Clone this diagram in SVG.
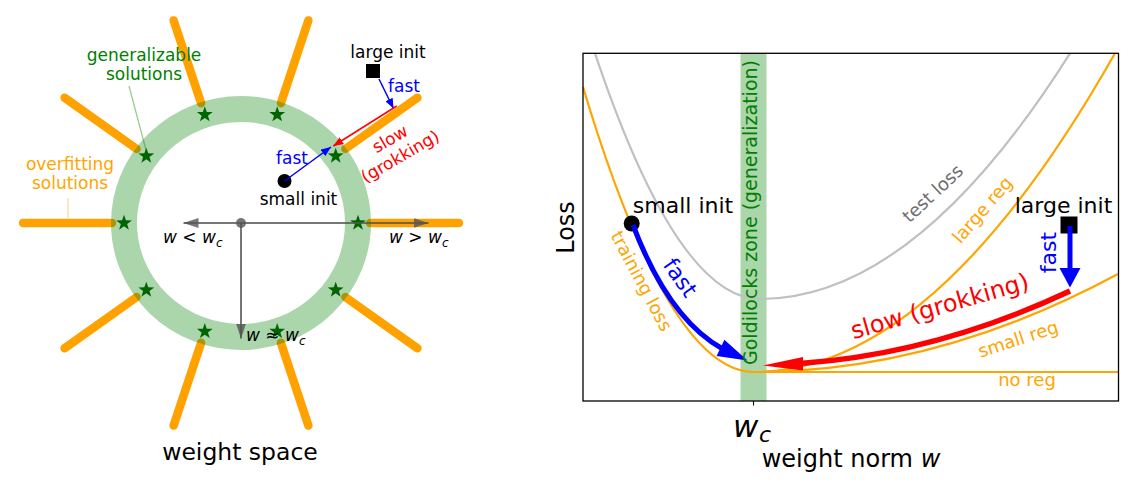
<svg xmlns="http://www.w3.org/2000/svg" xmlns:xlink="http://www.w3.org/1999/xlink" width="1144" height="486" viewBox="0 0 1144 486">
<style>
text{font-family:"DejaVu Sans","Liberation Sans",sans-serif;}
.t17{font-size:17px;}
.t18{font-size:18px;}
.t22{font-size:22px;}
.spoke{stroke:#ffa200;stroke-width:8.5;stroke-linecap:round;fill:none;}
.ring{fill:none;stroke:#008000;stroke-opacity:0.33;}
.ax{stroke:#555;stroke-opacity:0.8;stroke-width:2;fill:none;}
.curve{fill:none;stroke-width:2.2;}
.org{stroke:#ffa500;}
.mi{font-style:italic;}
</style>
<defs>
<path id="star" d="M0,-8.3 L1.95,-2.69 L7.89,-2.56 L3.16,1.03 L4.88,6.71 L0,3.32 L-4.88,6.71 L-3.16,1.03 L-7.89,-2.56 L-1.95,-2.69 Z" fill="#006400"/>
<marker id="hb" viewBox="0 0 10 8" refX="10" refY="4" markerWidth="10" markerHeight="8" markerUnits="userSpaceOnUse" orient="auto"><path d="M0,0 L10,4 L0,8 Z" fill="#0000ff"/></marker>
<marker id="hr" viewBox="0 0 10 8" refX="10" refY="4" markerWidth="10" markerHeight="8" markerUnits="userSpaceOnUse" orient="auto"><path d="M0,0 L10,4 L0,8 Z" fill="#ff0000"/></marker>
<marker id="hg" viewBox="0 0 15 10" refX="15" refY="5" markerWidth="15" markerHeight="10" markerUnits="userSpaceOnUse" orient="auto"><path d="M0,0 L15,5 L0,10 Z" fill="#555" fill-opacity="0.8"/></marker>
</defs>

<!-- LEFT PANEL: weight space -->
<g id="overfitting-spokes">
<line class="spoke" x1="370" y1="223" x2="459" y2="223"/>
<line class="spoke" x1="345.4" y1="148.9" x2="417.4" y2="97.8"/>
<line class="spoke" x1="280.9" y1="103.2" x2="308.4" y2="20.4"/>
<line class="spoke" x1="201.1" y1="103.2" x2="173.6" y2="20.4"/>
<line class="spoke" x1="136.6" y1="148.9" x2="64.6" y2="97.8"/>
<line class="spoke" x1="112" y1="223" x2="23" y2="223"/>
<line class="spoke" x1="136.6" y1="297.1" x2="64.6" y2="348.2"/>
<line class="spoke" x1="201.1" y1="342.8" x2="173.6" y2="425.6"/>
<line class="spoke" x1="280.9" y1="342.8" x2="308.4" y2="425.6"/>
<line class="spoke" x1="345.4" y1="297.1" x2="417.4" y2="348.2"/>
</g>
<g id="generalizable-ring">
<ellipse class="ring" cx="241" cy="223" rx="117" ry="114" stroke-width="26"/>
</g>
<g id="stars">
<use xlink:href="#star" href="#star" x="358" y="223"/>
<use xlink:href="#star" href="#star" x="335.7" y="156"/>
<use xlink:href="#star" href="#star" x="277.2" y="114.6"/>
<use xlink:href="#star" href="#star" x="204.8" y="114.6"/>
<use xlink:href="#star" href="#star" x="146.3" y="156"/>
<use xlink:href="#star" href="#star" x="124" y="223"/>
<use xlink:href="#star" href="#star" x="146.3" y="290"/>
<use xlink:href="#star" href="#star" x="204.8" y="331.4"/>
<use xlink:href="#star" href="#star" x="277.2" y="331.4"/>
<use xlink:href="#star" href="#star" x="335.7" y="290"/>
</g>
<g id="labels-left">
<line x1="129" y1="86" x2="146" y2="150" stroke="#008000" stroke-opacity="0.4" stroke-width="1.3"/>
<text class="t17" x="144" y="61" text-anchor="middle" fill="#008000">generalizable</text>
<text class="t17" x="144" y="80" text-anchor="middle" fill="#008000">solutions</text>
<line x1="68" y1="198" x2="68" y2="218" stroke="#ffa500" stroke-opacity="0.4" stroke-width="1.3"/>
<text class="t17" x="70" y="170" text-anchor="middle" fill="#ffa500">overfitting</text>
<text class="t17" x="70" y="189" text-anchor="middle" fill="#ffa500">solutions</text>
</g>
<g id="large-init-left">
<rect x="366" y="64" width="14" height="14" fill="#000"/>
<text class="t17" x="388" y="58" text-anchor="middle" fill="#000">large init</text>
</g>
<g id="small-init-left">
<circle cx="284.5" cy="181" r="7" fill="#000"/>
<text class="t17" x="298.5" y="205" text-anchor="middle" fill="#000">small init</text>
</g>
<g id="connectors-left">
<line x1="379" y1="79" x2="393.5" y2="108.5" stroke="#0000ff" stroke-width="1.5" marker-end="url(#hb)"/>
<line x1="396.7" y1="106" x2="333.3" y2="146" stroke="#ff0000" stroke-width="1.5" marker-end="url(#hr)"/>
<line x1="284.5" y1="181" x2="331" y2="147" stroke="#0000ff" stroke-width="1.5" marker-end="url(#hb)"/>
<text class="t17" x="388" y="92" fill="#0000ff">fast</text>
<text class="t17" x="276" y="164" fill="#0000ff">fast</text>
<g transform="translate(397,151) rotate(-30)" fill="#ff0000">
<text class="t17" x="0" y="-8" text-anchor="middle">slow</text>
<text class="t17" x="0" y="12" text-anchor="middle">(grokking)</text>
</g>
</g>
<g id="axes-left">
<line class="ax" x1="241" y1="223" x2="183.5" y2="223" marker-end="url(#hg)"/>
<line class="ax" x1="241" y1="223" x2="428.5" y2="223" marker-end="url(#hg)"/>
<line class="ax" x1="241" y1="223" x2="241" y2="338.5" marker-end="url(#hg)"/>
<circle cx="241" cy="223" r="5" fill="#555" fill-opacity="0.8"/>
<text class="t17" x="163" y="243" fill="#000"><tspan class="mi">w</tspan> &lt; <tspan class="mi">w</tspan><tspan class="mi" font-size="12" dy="4">c</tspan></text>
<text class="t17" x="389" y="243" fill="#000"><tspan class="mi">w</tspan> &gt; <tspan class="mi">w</tspan><tspan class="mi" font-size="12" dy="4">c</tspan></text>
<text class="t17" x="246" y="341" fill="#000"><tspan class="mi">w</tspan> ≈ <tspan class="mi">w</tspan><tspan class="mi" font-size="12" dy="4">c</tspan></text>
</g>
<text x="240" y="460" text-anchor="middle" font-size="23.5" fill="#000">weight space</text>

<!-- RIGHT PANEL: loss curves -->
<g id="goldilocks-zone">
<rect x="740.5" y="53.3" width="26" height="347.7" fill="#008000" fill-opacity="0.33"/>
</g>
<g id="curves">
<path class="curve" stroke="#c0c0c0" d="M595,53.3 Q677.5,299 760,299 Q915,299 1070,53.3"/>
<path class="curve org" d="M583,87 Q668.5,372 754,372 L1118,372"/>
<path class="curve org" d="M754,372 Q936,372 1118,274"/>
<path class="curve org" d="M754,372 Q934.5,372 1115,53.3"/>
</g>
<g id="small-init-right">
<circle cx="631.7" cy="223.5" r="8" fill="#000"/>
<text class="t22" x="683" y="213" text-anchor="middle" fill="#000">small init</text>
</g>
<g id="large-init-right">
<rect x="1060.5" y="216.5" width="17" height="17" fill="#000"/>
<text class="t22" x="1063.5" y="213" text-anchor="middle" fill="#000">large init</text>
</g>
<g id="connectors-right">
<path d="M633,225 C652,275 680,325 722,348.5" fill="none" stroke="#0000ff" stroke-width="5"/>
<polygon points="747.5,360.5 716.6,356 724.4,339.7" fill="#0000ff"/>
<path d="M1070,291 Q936.5,353.5 803,363.2" fill="none" stroke="#ff0000" stroke-width="5.5"/>
<polygon points="763,365.5 803,357 803,370.5" fill="#ff0000"/>
<rect x="1067.5" y="226" width="5" height="43" fill="#0000ff"/>
<polygon points="1059.5,268 1080.5,268 1070,287.5" fill="#0000ff"/>
</g>
<g id="labels-right">
<text class="t22" transform="translate(1056,252.5) rotate(-90)" text-anchor="middle" fill="#0000ff">fast</text>
<text class="t22" transform="translate(674,282) rotate(55)" text-anchor="middle" fill="#0000ff">fast</text>
<text transform="translate(942,314) rotate(-16)" text-anchor="middle" font-size="24" fill="#ff0000">slow (grokking)</text>
<text class="t18" transform="translate(636,284) rotate(62)" text-anchor="middle" fill="#ffa500">training loss</text>
<text class="t18" transform="translate(937,198) rotate(-43)" text-anchor="middle" fill="#6e6e6e">test loss</text>
<text class="t18" transform="translate(987,214) rotate(-49)" text-anchor="middle" fill="#ffa500">large reg</text>
<text class="t18" transform="translate(1020,345) rotate(-18)" text-anchor="middle" fill="#ffa500">small reg</text>
<text class="t18" x="1027" y="386" text-anchor="middle" fill="#ffa500">no reg</text>
<text transform="translate(757,212.5) rotate(-90)" text-anchor="middle" font-size="19" fill="#008000">Goldilocks zone (generalization)</text>
</g>
<g id="axes-right">
<rect x="583" y="53.3" width="535.5" height="347.7" fill="none" stroke="#000" stroke-width="1.3"/>
<line x1="753.5" y1="401" x2="753.5" y2="405.5" stroke="#000" stroke-width="1.1"/>
<text x="733" y="437" font-size="31" class="mi" fill="#000">w</text>
<text x="759" y="442" font-size="22" class="mi" fill="#000">c</text>
<text x="851" y="467" text-anchor="middle" font-size="24" fill="#000">weight norm <tspan class="mi">w</tspan></text>
<text transform="translate(574,227.5) rotate(-90)" text-anchor="middle" font-size="24" fill="#000">Loss</text>
</g>
</svg>
